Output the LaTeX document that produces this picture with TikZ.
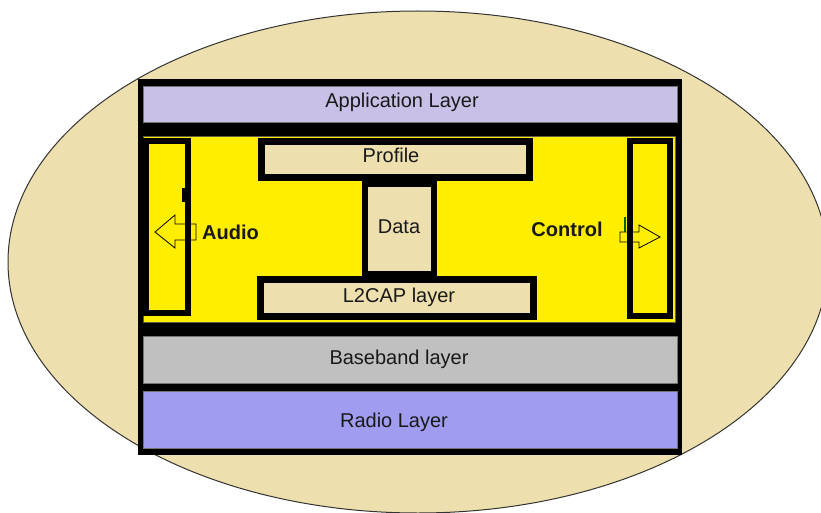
\documentclass[tikz,border=0pt]{standalone}
\usepackage{fontspec}
\setmainfont{Liberation Sans}
\definecolor{sand}{RGB}{238,224,174}
\definecolor{lilac}{RGB}{200,192,230}
\definecolor{grey}{RGB}{192,192,192}
\definecolor{radio}{RGB}{160,157,240}
\definecolor{yel}{RGB}{255,238,0}
\tikzset{lay/.style = {rectangle, fill=#1, draw=black!55, line width=0.8pt, inner sep=0pt},
         col/.style = {rectangle, fill=yel, draw=black, line width=6pt, inner sep=0pt},
         blk/.style = {rectangle, fill=sand, draw=black, line width=7pt, inner sep=0pt},
         txt/.style = {inner sep=0pt, text=black!90, font=\fontsize{20}{24}\selectfont},
         bold/.style = {txt, font=\fontsize{20}{24}\selectfont\bfseries},
         harrow/.style = {draw=black, line width=0.8pt, line join=miter}}

\begin{document}
\begin{tikzpicture}[x=1pt, y=-1pt]
    \useasboundingbox (0,0) rectangle (821,513);
    \fill[sand] (418,262) ellipse [x radius=410pt, y radius=251pt];
    \draw[black!80, line width=1pt] (418,262) ellipse [x radius=410pt, y radius=251pt];
    % stack frame and layers
    \node[rectangle, fill=black, minimum width=544, minimum height=376, inner sep=0pt] (stack) at (410,267) {};
    \node[lay=lilac, minimum width=534, minimum height=36] (app) at (410,104) {};
    \node[rectangle, fill=yel, draw=black!60!yellow!70!black, line width=0.8pt, minimum width=532, minimum height=186, inner sep=0pt] (mid) at (409,229) {};
    \node[lay=grey, minimum width=534, minimum height=47] (base) at (410,359.5) {};
    \node[lay=radio, minimum width=534, minimum height=57] (rad) at (410,419.5) {};
    \node[txt] (appt) at (402,102) {Application Layer};
    \node[txt] (baset) at (399,359) {Baseband layer};
    \node[txt] (radt) at (394,422) {Radio Layer};
    % middle part
    \node[col, minimum width=42, minimum height=172] (lcol) at (167,227) {};
    \node[col, minimum width=40, minimum height=175] (rcol) at (650,228.5) {};
    \node[blk, minimum width=268, minimum height=36] (prof) at (395.5,159.5) {};
    \node[blk, line width=6pt, minimum width=69, minimum height=90] (data) at (399.5,229) {};
    \node[blk, minimum width=273, minimum height=37] (l2cap) at (397,298) {};
    \node[txt] (proft) at (391,155) {Profile};
    \node[txt] (datat) at (399,227) {Data};
    \node[txt] (l2capt) at (399,297) {L2CAP layer};
    \node[bold, anchor=west] (audio) at (202,232) {Audio};
    \node[bold] (ctrl) at (567,229) {Control};
    % hollow arrows
    \draw[harrow] (155,232) -- (175,215) -- (175,224) -- (196,224) -- (196,240) -- (175,240) -- (175,248) -- cycle;
    \draw[harrow] (660,237) -- (639,225) -- (639,232) -- (620,232) -- (620,242) -- (639,242) -- (639,248) -- cycle;
    \fill[black] (182,188) rectangle (189,202);
    \draw[green!40!black, line width=1.5pt] (625,217) -- (625,232);
\end{tikzpicture}
\end{document}
